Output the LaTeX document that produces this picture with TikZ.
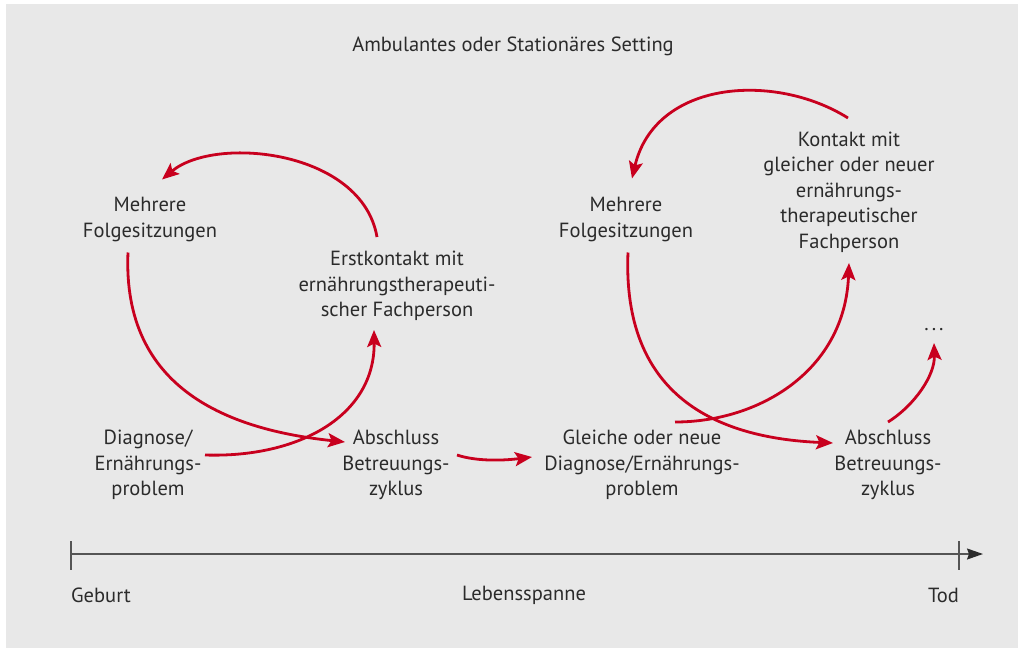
\documentclass[tikz,border=0pt]{standalone}
\usepackage{fontspec}
\setmainfont{PT Sans}
\usetikzlibrary{arrows.meta,calc}
\definecolor{bg}{HTML}{E8E8E8}
\definecolor{arrred}{HTML}{C8001E}
\definecolor{txt}{HTML}{2B2B2B}
\definecolor{axisgray}{HTML}{555555}
\begin{document}
\begin{tikzpicture}[x=1pt,y=-1pt,
  lbl/.style={font=\fontsize{20.5}{25.5}\selectfont, text=txt, align=center, inner sep=0pt},
  flow/.style={draw=arrred, line width=2.8pt, -{Stealth[length=17pt,width=14pt,inset=3.5pt]}},
  axisline/.style={draw=axisgray, line width=1.5pt},
]
\useasboundingbox (0,0) rectangle (1018,648);
\fill[white] (0,0) rectangle (1018,648);
\fill[bg] (6,4) rectangle (1018,648);

\node[lbl] (title) at (513,46) {Ambulantes oder Stationäres Setting};

\node[lbl] (folgeL) at (150,219.5) {Mehrere\\Folgesitzungen};
\node[lbl] (erst) at (397,286) {Erstkontakt mit\\ernährungstherapeuti-\\scher Fachperson};
\node[lbl] (diag) at (148,465) {Diagnose/\\Ernährungs-\\problem};
\node[lbl] (abschL) at (396,465) {Abschluss\\Betreuungs-\\zyklus};
\node[lbl] (gleich) at (642,465) {Gleiche oder neue\\Diagnose/Ernährungs-\\problem};
\node[lbl] (folgeR) at (626,219.5) {Mehrere\\Folgesitzungen};
\node[lbl] (kontakt) at (849,192) {Kontakt mit\\gleicher oder neuer\\ernährungs-\\therapeutischer\\Fachperson};
\node[lbl] (abschR) at (888,465) {Abschluss\\Betreuungs-\\zyklus};
\node[lbl] (dots) at (934,330) {.\hspace{3pt}.\hspace{3pt}.};

% cycle arrows
\draw[flow] ($(erst)+(-20,-49)$) .. controls (362,150) and (215,135) .. ($(folgeL)+(12,-40)$);
\draw[flow] ($(folgeL)+(-22,33)$) .. controls (122,390) and (230,430) .. ($(abschL)+(-51,-23)$);
\draw[flow] ($(diag)+(57,-10)$) .. controls (300,458) and (375,415) .. ($(erst)+(-23,44)$);
\draw[flow] ($(abschL)+(61,-10)$) .. controls (475,461) and (500,461) .. ($(gleich)+(-110,-8)$);
\draw[flow] ($(folgeR)+(2,33)$) .. controls (622,395) and (715,438) .. ($(abschR)+(-55,-22)$);
\draw[flow] ($(gleich)+(33,-43)$) .. controls (760,422) and (845,370) .. ($(kontakt)+(0,71)$);
\draw[flow] ($(kontakt)+(-1,-74)$) .. controls (775,72) and (655,80) .. ($(folgeR)+(6,-41)$);
\draw[flow] ($(abschR)+(0,-43)$) .. controls (915,405) and (935,375) .. ($(dots)+(0,13)$);

% life span axis
\coordinate (birth) at (71,554);
\coordinate (death) at (959,554);
\coordinate (axend) at (983,554);
\draw[axisline, -{Stealth[length=16pt,width=11pt,inset=2pt,color=txt]}] (birth) -- (axend);
\draw[axisline] ($(birth)+(0,-13)$) -- ($(birth)+(0,16)$);
\draw[axisline] ($(death)+(0,-13)$) -- ($(death)+(0,16)$);

\node[lbl, anchor=west] (geburt) at (71,595) {Geburt};
\node[lbl] (leben) at (524,595) {Lebensspanne};
\node[lbl, anchor=east] (tod) at (959,595) {Tod};
\end{tikzpicture}
\end{document}
